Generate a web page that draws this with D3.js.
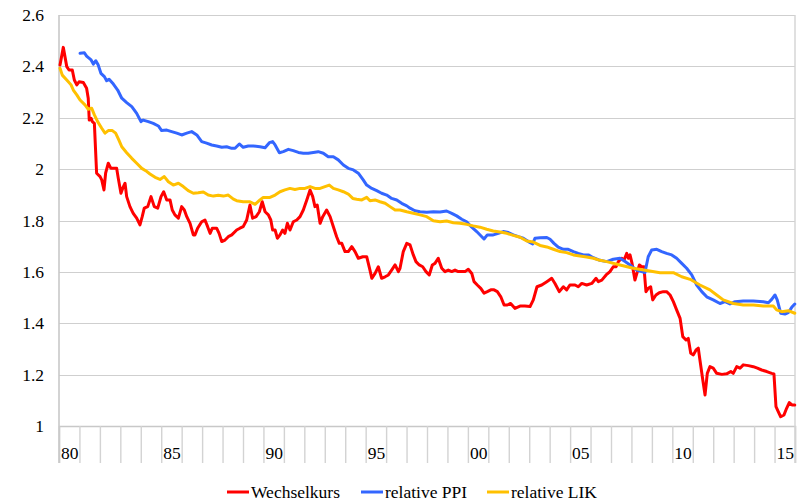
<!DOCTYPE html>
<html>
<head>
<meta charset="utf-8">
<script src="https://cdn.jsdelivr.net/npm/d3@7"></script>
<style>
  html, body { margin: 0; padding: 0; background: #ffffff; }
  svg { display: block; }
  text { font-family: "Liberation Serif", "Times New Roman", serif; fill: #000; }
</style>
</head>
<body>
<script>
// Exchange rate and relative price indices, monthly, 1980–2015 ([year, value])
const wechselkurs = [
  [1980.05,2.405],[1980.21,2.474],[1980.38,2.399],[1980.49,2.386],[1980.65,2.386],[1980.75,2.347],
  [1980.87,2.328],[1980.98,2.340],[1981.19,2.337],[1981.35,2.315],[1981.43,2.276],[1981.48,2.191],
  [1981.57,2.198],[1981.63,2.185],[1981.73,2.178],[1981.84,1.984],[1982.01,1.971],[1982.09,1.958],
  [1982.20,1.919],[1982.28,1.984],[1982.41,2.023],[1982.54,2.003],[1982.70,2.003],[1982.82,2.003],
  [1982.90,1.964],[1983.03,1.906],[1983.15,1.932],[1983.23,1.945],[1983.31,1.893],[1983.47,1.854],
  [1983.63,1.828],[1983.80,1.809],[1983.96,1.783],[1984.07,1.815],[1984.17,1.848],[1984.34,1.854],
  [1984.50,1.893],[1984.66,1.854],[1984.83,1.848],[1984.99,1.893],[1985.12,1.912],[1985.27,1.880],
  [1985.43,1.880],[1985.54,1.841],[1985.67,1.822],[1985.84,1.809],[1986.00,1.854],[1986.13,1.841],
  [1986.25,1.815],[1986.41,1.789],[1986.57,1.744],[1986.65,1.744],[1986.78,1.770],[1986.98,1.795],
  [1987.14,1.802],[1987.27,1.776],[1987.39,1.750],[1987.50,1.770],[1987.71,1.770],[1987.83,1.750],
  [1987.96,1.718],[1988.12,1.724],[1988.28,1.737],[1988.45,1.744],[1988.69,1.763],[1988.85,1.770],
  [1989.01,1.776],[1989.18,1.802],[1989.34,1.860],[1989.47,1.809],[1989.64,1.815],[1989.80,1.834],
  [1989.94,1.873],[1990.08,1.834],[1990.24,1.822],[1990.36,1.802],[1990.45,1.763],[1990.57,1.763],
  [1990.68,1.731],[1990.81,1.744],[1990.94,1.763],[1991.05,1.750],[1991.17,1.789],[1991.30,1.763],
  [1991.46,1.795],[1991.63,1.802],[1991.79,1.815],[1991.95,1.841],[1992.12,1.880],[1992.28,1.919],
  [1992.41,1.893],[1992.52,1.854],[1992.63,1.860],[1992.77,1.789],[1992.90,1.815],[1993.09,1.841],
  [1993.26,1.815],[1993.42,1.776],[1993.58,1.737],[1993.71,1.711],[1993.83,1.711],[1993.99,1.679],
  [1994.15,1.679],[1994.32,1.698],[1994.48,1.679],[1994.64,1.653],[1994.86,1.659],[1995.05,1.659],
  [1995.21,1.607],[1995.30,1.575],[1995.46,1.594],[1995.62,1.620],[1995.78,1.575],[1995.95,1.581],
  [1996.11,1.588],[1996.27,1.607],[1996.44,1.627],[1996.60,1.601],[1996.68,1.614],[1996.84,1.679],
  [1997.01,1.711],[1997.17,1.705],[1997.33,1.666],[1997.46,1.640],[1997.62,1.627],[1997.79,1.620],
  [1997.95,1.601],[1998.11,1.588],[1998.26,1.627],[1998.39,1.633],[1998.55,1.653],[1998.72,1.614],
  [1998.88,1.601],[1999.04,1.607],[1999.21,1.601],[1999.37,1.607],[1999.53,1.601],[1999.70,1.601],
  [1999.86,1.601],[2000.02,1.610],[2000.19,1.594],[2000.30,1.562],[2000.46,1.549],[2000.63,1.536],
  [2000.79,1.517],[2000.95,1.523],[2001.12,1.530],[2001.28,1.530],[2001.44,1.523],[2001.61,1.503],
  [2001.77,1.471],[2001.93,1.471],[2002.09,1.477],[2002.30,1.458],[2002.55,1.467],[2002.79,1.467],
  [2003.04,1.465],[2003.20,1.491],[2003.38,1.542],[2003.61,1.549],[2003.86,1.562],[2004.10,1.575],
  [2004.26,1.555],[2004.47,1.523],[2004.67,1.542],[2004.83,1.530],[2004.99,1.549],[2005.24,1.549],
  [2005.40,1.542],[2005.57,1.555],[2005.81,1.549],[2006.06,1.555],[2006.27,1.575],[2006.38,1.562],
  [2006.55,1.568],[2006.76,1.588],[2006.95,1.601],[2007.11,1.620],[2007.25,1.620],[2007.36,1.640],
  [2007.52,1.653],[2007.64,1.646],[2007.77,1.672],[2007.85,1.653],[2007.93,1.666],[2008.03,1.633],
  [2008.17,1.568],[2008.29,1.601],[2008.39,1.627],[2008.50,1.620],[2008.61,1.620],[2008.71,1.523],
  [2008.82,1.536],[2008.94,1.542],[2009.04,1.491],[2009.20,1.510],[2009.36,1.519],[2009.56,1.523],
  [2009.72,1.523],[2009.89,1.510],[2010.05,1.484],[2010.21,1.452],[2010.38,1.419],[2010.51,1.348],
  [2010.67,1.335],[2010.78,1.341],[2010.90,1.283],[2011.03,1.277],[2011.16,1.296],[2011.27,1.303],
  [2011.35,1.257],[2011.49,1.179],[2011.60,1.121],[2011.71,1.205],[2011.84,1.231],[2012.00,1.225],
  [2012.17,1.205],[2012.42,1.201],[2012.66,1.203],[2012.86,1.212],[2012.98,1.205],[2013.15,1.231],
  [2013.31,1.225],[2013.47,1.238],[2013.72,1.235],[2013.96,1.231],[2014.16,1.225],[2014.37,1.218],
  [2014.62,1.212],[2014.86,1.205],[2014.97,1.203],[2015.07,1.075],[2015.18,1.056],[2015.30,1.036],
  [2015.46,1.043],[2015.59,1.069],[2015.72,1.091],[2015.85,1.082],[2015.99,1.082]
];

const relativePPI = [
  [1981.03,2.451],[1981.24,2.453],[1981.35,2.440],[1981.57,2.425],[1981.68,2.409],[1981.80,2.422],
  [1981.92,2.405],[1982.05,2.373],[1982.22,2.360],[1982.33,2.344],[1982.45,2.350],[1982.66,2.331],
  [1982.87,2.308],[1983.07,2.276],[1983.31,2.259],[1983.56,2.243],[1983.80,2.217],[1984.01,2.185],
  [1984.12,2.191],[1984.37,2.185],[1984.61,2.178],[1984.86,2.168],[1985.02,2.150],[1985.27,2.152],
  [1985.51,2.146],[1985.76,2.140],[1986.00,2.133],[1986.25,2.140],[1986.49,2.146],[1986.74,2.133],
  [1986.98,2.107],[1987.22,2.101],[1987.47,2.094],[1987.71,2.090],[1987.96,2.085],[1988.20,2.087],
  [1988.45,2.081],[1988.61,2.081],[1988.82,2.098],[1989.01,2.085],[1989.26,2.090],[1989.50,2.090],
  [1989.83,2.087],[1990.08,2.083],[1990.29,2.103],[1990.45,2.107],[1990.57,2.094],[1990.78,2.064],
  [1990.97,2.068],[1991.22,2.077],[1991.46,2.072],[1991.71,2.065],[1991.95,2.062],[1992.19,2.062],
  [1992.44,2.065],[1992.68,2.068],[1992.93,2.062],[1993.17,2.048],[1993.42,2.048],[1993.66,2.036],
  [1993.91,2.016],[1994.15,2.003],[1994.40,1.997],[1994.64,1.984],[1994.88,1.958],[1995.05,1.938],
  [1995.30,1.925],[1995.54,1.916],[1995.78,1.906],[1996.03,1.899],[1996.27,1.886],[1996.52,1.880],
  [1996.76,1.867],[1997.01,1.857],[1997.17,1.848],[1997.41,1.838],[1997.66,1.834],[1997.99,1.832],
  [1998.31,1.834],[1998.64,1.833],[1998.96,1.837],[1999.21,1.828],[1999.45,1.818],[1999.70,1.805],
  [1999.94,1.795],[2000.19,1.774],[2000.43,1.757],[2000.68,1.737],[2000.79,1.728],[2000.95,1.744],
  [2001.24,1.744],[2001.49,1.750],[2001.73,1.757],[2001.98,1.753],[2002.22,1.744],[2002.47,1.737],
  [2002.71,1.731],[2002.96,1.718],[2003.17,1.709],[2003.28,1.731],[2003.53,1.733],[2003.86,1.734],
  [2004.02,1.727],[2004.21,1.711],[2004.42,1.696],[2004.67,1.688],[2004.91,1.688],[2005.16,1.679],
  [2005.40,1.672],[2005.65,1.666],[2005.89,1.666],[2006.14,1.655],[2006.46,1.645],[2006.79,1.640],
  [2007.11,1.649],[2007.44,1.653],[2007.69,1.640],[2007.93,1.627],[2008.26,1.607],[2008.50,1.601],
  [2008.66,1.597],[2008.82,1.659],[2008.99,1.685],[2009.24,1.688],[2009.48,1.679],[2009.72,1.672],
  [2009.97,1.666],[2010.21,1.653],[2010.46,1.633],[2010.70,1.614],[2010.95,1.588],[2011.19,1.549],
  [2011.44,1.523],[2011.68,1.503],[2012.00,1.491],[2012.33,1.477],[2012.58,1.484],[2012.82,1.475],
  [2013.07,1.484],[2013.47,1.487],[2013.96,1.487],[2014.45,1.484],[2014.70,1.480],[2014.86,1.493],
  [2015.02,1.510],[2015.13,1.491],[2015.30,1.439],[2015.51,1.436],[2015.67,1.441],[2015.84,1.462],
  [2015.99,1.475]
];

const relativeLIK = [
  [1980.05,2.393],[1980.16,2.366],[1980.38,2.347],[1980.59,2.328],[1980.70,2.308],[1980.87,2.289],
  [1981.03,2.269],[1981.27,2.250],[1981.43,2.233],[1981.60,2.237],[1981.73,2.211],[1981.89,2.185],
  [1982.09,2.159],[1982.25,2.140],[1982.41,2.150],[1982.61,2.150],[1982.77,2.140],[1982.93,2.113],
  [1983.07,2.087],[1983.31,2.064],[1983.56,2.042],[1983.80,2.023],[1984.05,2.003],[1984.24,1.994],
  [1984.45,1.981],[1984.70,1.968],[1984.94,1.960],[1985.15,1.971],[1985.35,1.951],[1985.59,1.938],
  [1985.84,1.945],[1986.08,1.932],[1986.32,1.916],[1986.57,1.906],[1986.81,1.908],[1987.06,1.911],
  [1987.30,1.899],[1987.55,1.895],[1987.79,1.898],[1988.04,1.895],[1988.28,1.899],[1988.53,1.883],
  [1988.69,1.877],[1989.01,1.873],[1989.34,1.873],[1989.59,1.863],[1989.83,1.880],[1989.99,1.890],
  [1990.32,1.890],[1990.57,1.899],[1990.81,1.912],[1991.05,1.919],[1991.30,1.925],[1991.54,1.921],
  [1991.79,1.925],[1992.03,1.925],[1992.28,1.932],[1992.52,1.925],[1992.77,1.925],[1993.01,1.932],
  [1993.22,1.938],[1993.42,1.925],[1993.66,1.919],[1993.91,1.912],[1994.15,1.903],[1994.37,1.886],
  [1994.56,1.883],[1994.81,1.880],[1995.05,1.890],[1995.21,1.877],[1995.46,1.880],[1995.70,1.873],
  [1995.95,1.867],[1996.19,1.854],[1996.44,1.841],[1996.68,1.841],[1997.01,1.834],[1997.33,1.828],
  [1997.66,1.822],[1997.99,1.815],[1998.31,1.799],[1998.64,1.795],[1998.96,1.798],[1999.29,1.791],
  [1999.61,1.789],[1999.94,1.785],[2000.26,1.779],[2000.59,1.774],[2000.92,1.766],[2001.24,1.759],
  [2001.57,1.755],[2001.90,1.750],[2002.22,1.742],[2002.55,1.735],[2002.88,1.720],[2003.20,1.716],
  [2003.53,1.703],[2003.86,1.697],[2004.18,1.688],[2004.51,1.679],[2004.83,1.675],[2005.16,1.666],
  [2005.48,1.662],[2005.81,1.658],[2006.14,1.653],[2006.46,1.645],[2006.79,1.640],[2007.44,1.627],
  [2008.09,1.614],[2008.75,1.605],[2009.40,1.597],[2010.05,1.597],[2010.46,1.581],[2010.87,1.571],
  [2011.35,1.549],[2011.84,1.530],[2012.17,1.510],[2012.49,1.491],[2012.98,1.477],[2013.47,1.471],
  [2013.96,1.471],[2014.45,1.467],[2014.94,1.467],[2015.10,1.452],[2015.35,1.445],[2015.67,1.449],
  [2015.99,1.439]
];

const seriesNames = ["Wechselkurs", "relative PPI", "relative LIK"];
const seriesColors = ["#FF0000", "#3366FF", "#FFC000"];
const yTicks = [1, 1.2, 1.4, 1.6, 1.8, 2, 2.2, 2.4, 2.6];
const yearTicks = d3.range(1980, 2017);
const yearLabels = ["80", "85", "90", "95", "00", "05", "10", "15"];

const W = 802, H = 502;
const plot = { left: 59, right: 795, top: 15, bottom: 426 };

const svg = d3.select("body").append("svg").attr("width", W).attr("height", H);
svg.append("rect").attr("width", W).attr("height", H).attr("fill", "#fff");

const x = d3.scaleLinear().domain([1980, 2016]).range([plot.left, plot.right]);
const y = d3.scaleLinear().domain([1, 2.6]).range([plot.bottom, plot.top]);

// horizontal gridlines
svg.append("g").selectAll("line").data(yTicks.filter(v => v > 1)).join("line")
  .attr("x1", plot.left).attr("x2", plot.right)
  .attr("y1", d => Math.round(y(d)) + 0.5).attr("y2", d => Math.round(y(d)) + 0.5)
  .attr("stroke", "#CFCFCF").attr("stroke-width", 1.2);

// y axis labels
svg.append("g").selectAll("text").data(yTicks).join("text")
  .attr("x", 44).attr("y", d => y(d) + 6)
  .attr("text-anchor", "end").attr("font-size", 17.5)
  .text(d => d3.format("")(d));

// x axis: year tick lines below the baseline
const xAxis = d3.axisBottom(x).tickValues(yearTicks).tickSize(37).tickFormat("");
const gx = svg.append("g").attr("transform", `translate(0,${plot.bottom})`).call(xAxis);
gx.select(".domain").attr("stroke", "#C8C8C8").attr("stroke-width", 1.4);
gx.selectAll(".tick line").attr("stroke", "#D3D3D3").attr("stroke-width", 1.4);

// left axis line and right frame line
svg.append("line").attr("x1", plot.left).attr("x2", plot.left)
  .attr("y1", plot.top).attr("y2", plot.bottom + 37)
  .attr("stroke", "#C8C8C8").attr("stroke-width", 1.6);
svg.append("line").attr("x1", plot.right).attr("x2", plot.right)
  .attr("y1", plot.top).attr("y2", plot.bottom + 37)
  .attr("stroke", "#D3D3D3").attr("stroke-width", 1.4);

// year labels every five years
svg.append("g").selectAll("text").data(yearLabels).join("text")
  .attr("x", (d, i) => x(1980 + 5 * i) + 2)
  .attr("y", 459)
  .attr("font-size", 17.5)
  .text(d => d);

// series lines
const line = d3.line().x(d => x(d[0])).y(d => y(d[1]));
[wechselkurs, relativePPI, relativeLIK].forEach((data, i) => {
  svg.append("path").datum(data)
    .attr("d", line)
    .attr("fill", "none")
    .attr("stroke", seriesColors[i])
    .attr("stroke-width", 3)
    .attr("stroke-linejoin", "round")
    .attr("stroke-linecap", "round");
});

// legend
const legendX = [227, 361, 487];
const lg = svg.append("g");
seriesNames.forEach((name, i) => {
  lg.append("line")
    .attr("x1", legendX[i]).attr("x2", legendX[i] + 22)
    .attr("y1", 492).attr("y2", 492)
    .attr("stroke", seriesColors[i]).attr("stroke-width", 3);
  lg.append("text")
    .attr("x", legendX[i] + 24).attr("y", 498)
    .attr("font-size", 17.5)
    .text(name);
});
</script>
</body>
</html>
